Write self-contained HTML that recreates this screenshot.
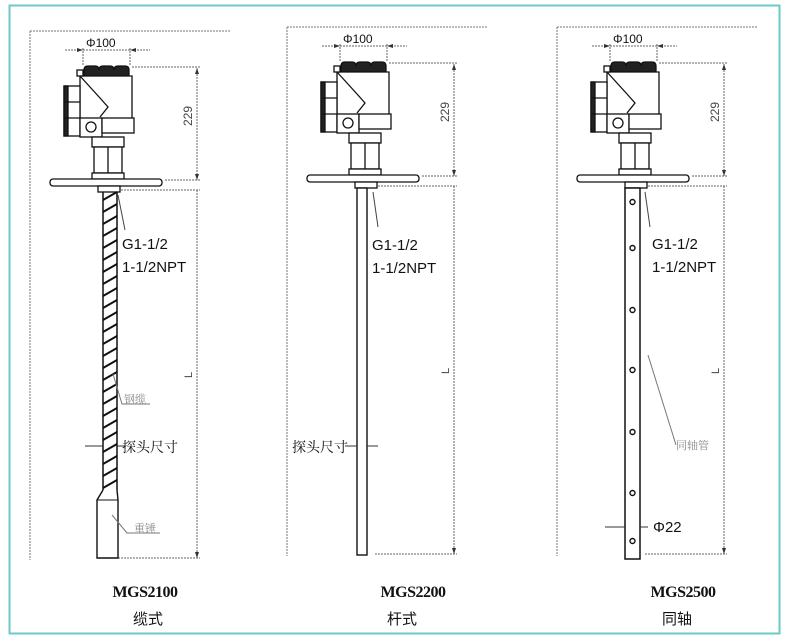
<!DOCTYPE html>
<html><head><meta charset="utf-8"><style>
html,body{margin:0;padding:0;background:#fff;width:790px;height:642px;overflow:hidden}
svg{display:block}
.t{font-family:"Liberation Sans","Noto Sans CJK SC",sans-serif;fill:#111}
.g{font-family:"Noto Serif CJK SC","Liberation Serif",serif;fill:#888;font-size:11px}
.b{font-family:"Liberation Serif",serif;font-weight:bold;font-size:16px;fill:#111;letter-spacing:-0.5px}
</style></head><body>
<svg width="790" height="642" viewBox="0 0 790 642" xmlns="http://www.w3.org/2000/svg">
<rect x="9.5" y="5.5" width="770" height="628" fill="none" stroke="#6cc9c6" stroke-width="2"/>
<defs>
<g id="head" fill="#fff" stroke="#111" stroke-width="1.3">
  <path d="M30 31H230M30 31V560" stroke="#777" stroke-dasharray="2 1" stroke-width="1"/>
  <path d="M65 50H150M83 48V66M130 48V66M132 67H200M165 180H200M118 190H200M118 558H200M197 68V180M197 190V558" stroke="#666" stroke-dasharray="2 1" stroke-width="1"/>
  <path d="M83 50l-6 -2v4zM130 50l6 -2v4zM197 68l-2 6h4zM197 180l-2 -6h4zM197 558l-2 -6h4z" fill="#333" stroke="none"/>
  <text x="86" y="47" class="t" style="font-size:12px" stroke="none">Φ100</text>
  <text transform="translate(192,126) rotate(-90)" class="t" style="font-size:12px;fill:#444" stroke="none">229</text>
  <text transform="translate(192,378) rotate(-90)" class="t" style="font-size:11px;fill:#444" stroke="none">L</text>
  <path d="M84 76V70q0-4 4-4h7q4 0 4 4q0-4 4-4h7q4 0 4 4q0-4 4-4h7q4 0 4 4V76Z" fill="#222"/>
  <path d="M80 120V76H132V118"/>
  <rect x="77" y="70" width="6" height="6"/>
  <path d="M80 76L100 98L108 107L100 117"/>
  <rect x="64" y="86" width="16" height="50" fill="#fff"/>
  <rect x="64" y="86" width="4" height="50" fill="#222"/>
  <path d="M64 102H80M64 118H80"/>
  <rect x="80" y="118" width="22" height="19"/>
  <circle cx="91" cy="127" r="5"/>
  <rect x="102" y="118" width="32" height="15"/>
  <rect x="92" y="137" width="32" height="10"/>
  <rect x="94" y="147" width="28" height="26"/>
  <path d="M108 147V173"/>
  <rect x="92" y="173" width="32" height="6"/>
  <rect x="50" y="179" width="112" height="7" rx="3"/>
  <rect x="98" y="186" width="22" height="6"/>
</g>
</defs>

<use href="#head"/>
<path d="M103 192V490M117 192V490" stroke="#111" stroke-width="1.5"/>
<g stroke="#111" stroke-width="2">
<path d="M103 200l14 -8M103 212l14 -8M103 224l14 -8M103 236l14 -8M103 248l14 -8M103 260l14 -8M103 272l14 -8M103 284l14 -8M103 296l14 -8M103 308l14 -8M103 320l14 -8M103 332l14 -8M103 344l14 -8M103 356l14 -8M103 368l14 -8M103 380l14 -8M103 392l14 -8M103 404l14 -8M103 416l14 -8M103 428l14 -8M103 440l14 -8M103 452l14 -8M103 464l14 -8M103 476l14 -8M103 488l14 -8"/>
</g>
<path d="M103 490L97 500V558H118V500L117 490" fill="#fff" stroke="#111" stroke-width="1.4"/>
<path d="M97 500H118" stroke="#111"/>
<path d="M118 195L125 230" stroke="#444"/>
<text x="122" y="249" class="t" style="font-size:15px">G1-1/2</text>
<text x="122" y="272" class="t" style="font-size:15px">1-1/2NPT</text>
<path d="M113 374L122 404H150" stroke="#777" fill="none"/>
<text x="124" y="403" class="g">钢缆</text>
<path d="M85 446H103M117 446H125" stroke="#333"/>
<text x="122" y="452" class="t" style="font-size:14px;font-family:'Noto Serif CJK SC',serif">探头尺寸</text>
<path d="M112 515L127 533H160" stroke="#777" fill="none"/>
<text x="134" y="532" class="g">重锤</text>
<text x="145" y="597" class="b" text-anchor="middle">MGS2100</text>
<text x="148" y="624" class="t" style="font-size:15px" text-anchor="middle">缆式</text>

<g transform="translate(257,-4)"><use href="#head"/></g>
<rect x="357" y="188" width="10" height="367" fill="#fff" stroke="#111" stroke-width="1.4"/>
<path d="M373 192L378 227" stroke="#444"/>
<text x="372" y="250" class="t" style="font-size:15px">G1-1/2</text>
<text x="372" y="273" class="t" style="font-size:15px">1-1/2NPT</text>
<path d="M345 446H357M367 446H378" stroke="#333"/>
<text x="292" y="452" class="t" style="font-size:14px;font-family:'Noto Serif CJK SC',serif">探头尺寸</text>
<text x="413" y="597" class="b" text-anchor="middle">MGS2200</text>
<text x="402" y="624" class="t" style="font-size:15px" text-anchor="middle">杆式</text>

<g transform="translate(527,-4)"><use href="#head"/></g>
<rect x="625" y="188" width="15" height="371" fill="#fff" stroke="#111" stroke-width="1.5"/>
<g fill="#fff" stroke="#111" stroke-width="1.4">
<circle cx="632.5" cy="202" r="2.5"/><circle cx="632.5" cy="248" r="2.5"/><circle cx="632.5" cy="310" r="2.5"/><circle cx="632.5" cy="370" r="2.5"/><circle cx="632.5" cy="432" r="2.5"/><circle cx="632.5" cy="493" r="2.5"/><circle cx="632.5" cy="541" r="2.5"/>
</g>
<path d="M645 192L650 227" stroke="#444"/>
<text x="652" y="249" class="t" style="font-size:15px">G1-1/2</text>
<text x="652" y="272" class="t" style="font-size:15px">1-1/2NPT</text>
<path d="M648 355L676 445" stroke="#777"/>
<text x="676" y="449" class="g">同轴管</text>
<path d="M605 527H625M640 527H648" stroke="#333"/>
<text x="653" y="532" class="t" style="font-size:15px">Φ22</text>
<text x="683" y="597" class="b" text-anchor="middle">MGS2500</text>
<text x="677" y="624" class="t" style="font-size:15px" text-anchor="middle">同轴</text>
</svg>
</body></html>
